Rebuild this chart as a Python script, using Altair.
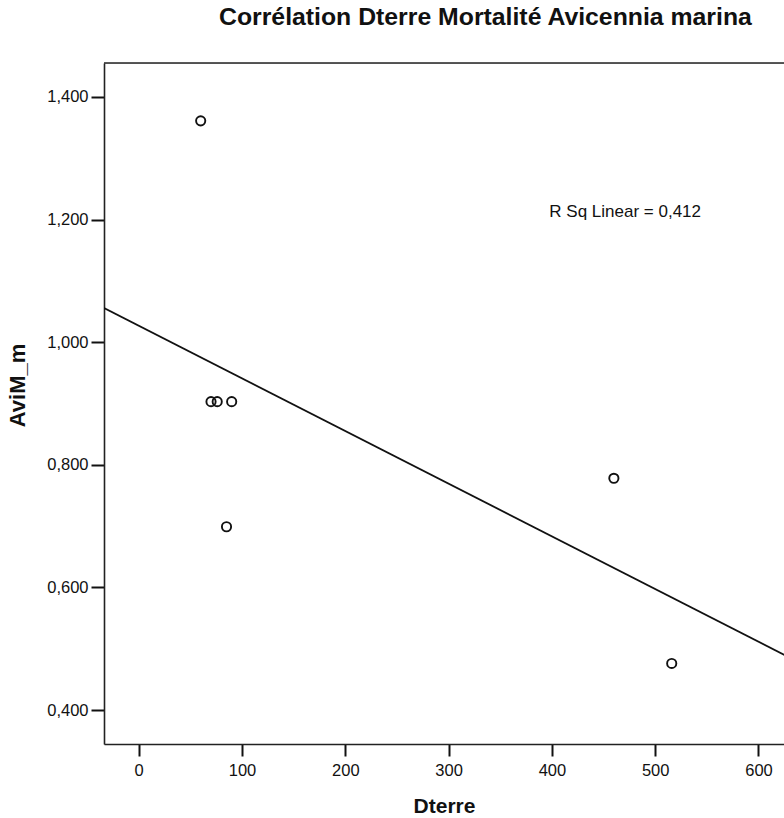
import altair as alt
import pandas as pd

# Distance to land (Dterre) and Avicennia marina mortality (AviM_m)
dterre = [60, 70, 76, 90, 85, 460, 516]
avim_m = [1.361, 0.903, 0.903, 0.903, 0.699, 0.778, 0.476]

x_ticks = [0, 100, 200, 300, 400, 500, 600]
y_ticks = [0.4, 0.6, 0.8, 1.0, 1.2, 1.4]
r2_label = "R Sq Linear = 0,412"

df = pd.DataFrame({"Dterre": dterre, "AviM_m": avim_m})
note = pd.DataFrame({"label": [r2_label]})

FONT = "Liberation Sans"
X_MIN, X_MAX = -33.6, 624.7
Y_MIN, Y_MAX = 0.3446, 1.4554
x_scale = alt.Scale(domain=[X_MIN, X_MAX], nice=False, zero=False)
y_scale = alt.Scale(domain=[Y_MIN, Y_MAX], nice=False, zero=False)

x_axis = alt.Axis(
    values=x_ticks, title="Dterre", grid=False,
    domain=True, domainColor="#222", domainWidth=1.6,
    ticks=True, tickSize=12, tickWidth=2, tickColor="#111",
    labelFont=FONT, labelFontSize=16.5, labelColor="#111", labelPadding=6,
    titleFont=FONT, titleFontSize=21, titleFontWeight="bold", titleColor="#111",
    titleBaseline="alphabetic", titleY=68,
)
y_axis = alt.Axis(
    values=y_ticks, title="AviM_m", grid=False,
    labelExpr="replace(format(datum.value, '.3f'), '.', ',')",
    domain=True, domainColor="#222", domainWidth=1.6,
    ticks=True, tickSize=13, tickWidth=2, tickColor="#111",
    labelFont=FONT, labelFontSize=16.5, labelColor="#111", labelPadding=3,
    titleFont=FONT, titleFontSize=22, titleFontWeight="bold", titleColor="#111",
    titleAngle=-90, titleAlign="center", titleBaseline="alphabetic",
    titleX=-80, titleY=322,
)


def xenc(field="Dterre"):
    return alt.X(f"{field}:Q", scale=x_scale, axis=x_axis)


def yenc(field="AviM_m"):
    return alt.Y(f"{field}:Q", scale=y_scale, axis=y_axis)


base = alt.Chart(df)

points = base.mark_point(
    shape="circle", filled=False, color="#111", opacity=1, size=85, strokeWidth=1.9
).encode(x=xenc(), y=yenc())

fit = base.transform_regression(
    "Dterre", "AviM_m", method="linear", extent=[-40, 640]
).mark_line(color="#111", strokeWidth=1.8, clip=True).encode(x=xenc(), y=yenc())

# upper edge of the plot frame, at the top of the y domain
frame_top = alt.Chart(note).mark_rule(color="#222", strokeWidth=1.6).encode(
    y=alt.YDatum(Y_MAX, scale=y_scale, axis=y_axis)
)

r2_text = alt.Chart(note).mark_text(
    align="left", baseline="middle", font=FONT, fontSize=17, color="#111"
).encode(
    x=alt.XDatum(397.5, scale=x_scale, axis=x_axis),
    y=alt.YDatum(1.212, scale=y_scale, axis=y_axis),
    text="label:N",
)

chart = alt.layer(fit, points, frame_top, r2_text).properties(
    width=680,
    height=681,
    title=alt.TitleParams(
        text="Corrélation Dterre Mortalité Avicennia marina",
        anchor="start", frame="group", dx=115, offset=12, baseline="alphabetic",
        font=FONT, fontSize=24.8, fontWeight="bold", color="#111",
    ),
    autosize="none",
    padding={"left": 104, "top": 63, "right": 0, "bottom": 74},
).configure_view(stroke=None).configure(background="white")

chart.save("out.html", embed_options={"renderer": "svg", "actions": False})
